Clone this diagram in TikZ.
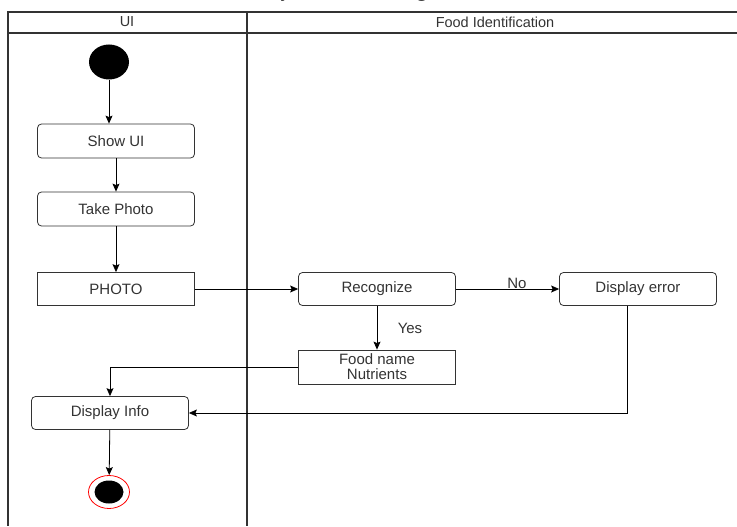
\documentclass[tikz,border=0pt]{standalone}
\usepackage{fontspec}
\setmainfont{Liberation Sans}
\newfontfamily\titlefont{Liberation Serif}
\usetikzlibrary{
  arrows.meta,
  shapes.geometric,
  chains,
  positioning,
  scopes
}

\begin{document}
\begin{tikzpicture}[x=1pt,y=-1pt,
      action/.style={
         rectangle,
         rounded corners=4pt,
         minimum width=157pt,
         minimum height=34pt,
         draw=black!80,
         line width=0.8pt,
         text=black!80,
         align=center,
         font=\fontsize{15}{15}\selectfont
      },
      datanode/.style={
         action,
         rounded corners=0pt
      },
      initial/.style={
         ellipse,
         fill=black,
         inner sep=0pt,
         minimum width=40pt,
         minimum height=35pt
      },
      final/.style={
         ellipse,
         draw=red,
         line width=0.8pt,
         inner sep=0pt,
         minimum width=41pt,
         minimum height=33pt,
         path picture={\fill[black] (path picture bounding box.center) ellipse (14.5pt and 11.5pt);}
      },
      lane/.style={draw=black!80,line width=1.2pt},
      header/.style={text=black!80,font=\fontsize{14.5}{15}\selectfont},
      guard/.style={inner sep=1pt,text=black!80,font=\fontsize{15}{15}\selectfont},
      >={Stealth[length=8pt,width=7pt,inset=1.5pt]},
      tip/.style={->},every join/.style={line width=0.8pt},
      hv path/.style={to path={-| (\tikztotarget)}},
      vh path/.style={to path={|- (\tikztotarget)}}
    ]
    \useasboundingbox (0,0) rectangle (737,527);
    \clip (0,0) rectangle (737,527);
    % title, cut off by the page
    \node (title) [anchor=base,font=\titlefont\fontsize{22}{24}\selectfont] at (365,-3) {System Flow diagram};
    % swimlanes
    \draw[lane] (7,12) -- (737,12);
    \draw[lane] (8,33) -- (737,33);
    \draw[lane,line width=1.8pt] (8,12) -- (8,526);
    \draw[lane] (247,12) -- (247,526);
    \node (h1) [header] at (127,22) {UI};
    \node (h2) [header] at (495,22) {Food Identification};
    % nodes
    \node (n11) [initial] at (109,62) {};
    \node (n21) [action] at (116,141) {Show UI};
    \node (n31) [action] at (116,209) {Take Photo};
    \node (n41) [datanode,minimum height=33pt] at (116,289) {PHOTO};
    \node (n42) [action,minimum height=33pt] at (377,289) {Recognize};
    \node (n43) [action,minimum height=33pt] at (638,289) {Display error};
    \node (n52) [datanode] at (377,367) {Food name\\Nutrients};
    \node (n61) [action,minimum height=33pt] at (110,413) {Display Info};
    \node (n71) [final] at (109,492) {};
    % guards
    \node (lno) [guard,anchor=south] at (517,290) {No};
    \node (lyes) [guard] at (410,328) {Yes};
    % flows
    \draw[tip,line width=0.8pt] (n11.south) -- (n11.south |- n21.north);
  { [start chain]
       \chainin (n21);
       \chainin (n31)    [join=by tip];
  }
  { [start chain]
       \chainin (n31);
       \chainin (n41)    [join=by tip];
  }
  { [start chain]
       \chainin (n41);
       \chainin (n42)    [join=by tip];
  }
  { [start chain]
       \chainin (n42);
       \chainin (n43)    [join=by tip];
  }
  { [start chain]
       \chainin (n42);
       \chainin (n52)    [join=by tip];
  }
  { [start chain]
       \chainin (n52);
       \chainin (n61)    [join=by {hv path,tip}];
  }
  { [start chain]
       \chainin (n61);
       \chainin (n71)    [join=by tip];
  }
    \draw[tip,line width=0.8pt] ([xshift=-11pt]n43.south) |- (n61.east);
\end{tikzpicture}
\end{document}
